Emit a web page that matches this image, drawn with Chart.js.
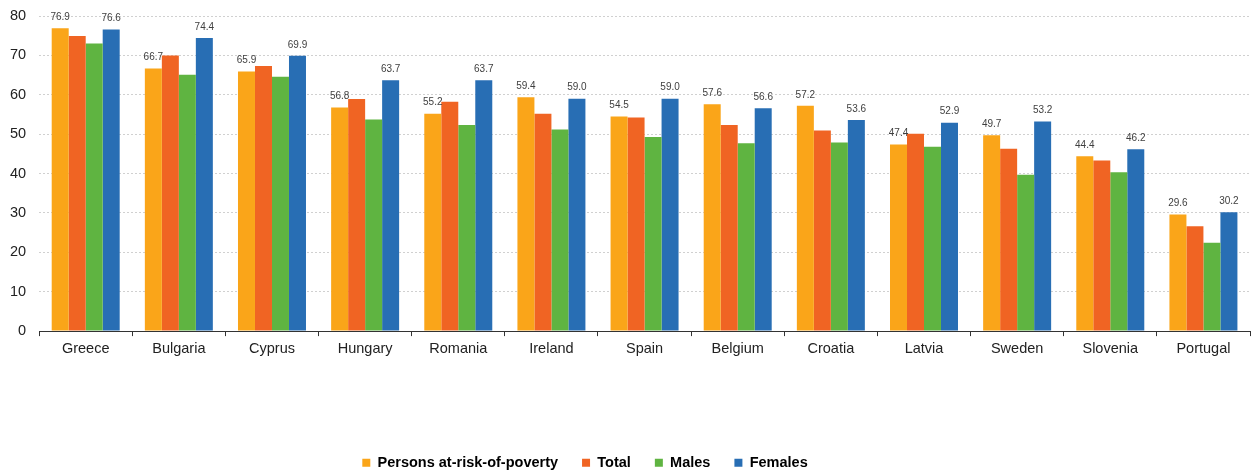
<!DOCTYPE html>
<html>
<head>
<meta charset="utf-8">
<script src="https://cdn.jsdelivr.net/npm/chart.js@4"></script>
<style>
  html, body { margin: 0; padding: 0; background: #fff; }
  #wrap { width: 1252px; height: 472px; position: relative; }
</style>
</head>
<body>
<div id="wrap"><canvas id="povertyChart"></canvas></div>
<script>
const countries = ['Greece', 'Bulgaria', 'Cyprus', 'Hungary', 'Romania', 'Ireland', 'Spain',
  'Belgium', 'Croatia', 'Latvia', 'Sweden', 'Slovenia', 'Portugal'];
const atRisk  = [76.9, 66.7, 65.9, 56.8, 55.2, 59.4, 54.5, 57.6, 57.2, 47.4, 49.7, 44.4, 29.6];
const total   = [74.9, 70.0, 67.3, 58.9, 58.2, 55.2, 54.2, 52.3, 50.9, 50.1, 46.3, 43.3, 26.6];
const males   = [73.0, 65.1, 64.6, 53.7, 52.3, 51.2, 49.3, 47.7, 47.9, 46.8, 39.7, 40.3, 22.4];
const females = [76.6, 74.4, 69.9, 63.7, 63.7, 59.0, 59.0, 56.6, 53.6, 52.9, 53.2, 46.2, 30.2];
const yTicks  = [0, 10, 20, 30, 40, 50, 60, 70, 80];

const FONT = '"Liberation Sans", Arial, sans-serif';

// value labels above the orange and blue bars only
const barValues = {
  id: 'barValues',
  afterDatasetsDraw(chart) {
    const ctx = chart.ctx;
    ctx.save();
    ctx.font = '10px ' + FONT;
    ctx.fillStyle = '#404040';
    ctx.textAlign = 'center';
    ctx.textBaseline = 'bottom';
    [0, 3].forEach((i) => {
      const meta = chart.getDatasetMeta(i);
      meta.data.forEach((bar, j) => {
        ctx.fillText(chart.data.datasets[i].data[j].toFixed(1), bar.x, bar.y - 6);
      });
    });
    ctx.restore();
  }
};

// legend sits a bit left of centre and close to the bottom edge
const legendShift = {
  id: 'legendShift',
  afterLayout(chart) {
    const lg = chart.legend;
    lg.left -= 40;
    lg.right -= 40;
    lg.top += 8;
    lg.bottom += 8;
  }
};

const mk = (label, data, color) => ({
  label, data, backgroundColor: color, borderWidth: 0,
  categoryPercentage: 0.73, barPercentage: 1.0
});

new Chart(document.getElementById('povertyChart').getContext('2d'), {
  type: 'bar',
  data: {
    labels: countries,
    datasets: [
      mk('Persons at-risk-of-poverty', atRisk, '#FAA519'),
      mk('Total', total, '#F06423'),
      mk('Males', males, '#5FB441'),
      mk('Females', females, '#286EB4')
    ]
  },
  plugins: [barValues, legendShift],
  options: {
    responsive: true,
    maintainAspectRatio: false,
    animation: false,
    layout: { padding: { top: 16, right: 2, left: 0, bottom: 0 } },
    plugins: {
      tooltip: { enabled: false },
      legend: {
        position: 'bottom',
        labels: {
          boxWidth: 8,
          boxHeight: 8,
          padding: 24,
          color: '#000',
          font: { family: FONT, size: 14.5, weight: 'bold' }
        }
      }
    },
    scales: {
      x: {
        offset: true,
        grid: {
          offset: true,
          drawOnChartArea: false,
          drawTicks: true,
          tickLength: 5,
          color: '#333'
        },
        border: { color: '#333', width: 1 },
        ticks: {
          color: '#222',
          padding: 4,
          font: { family: FONT, size: 14.5 }
        },
        afterFit(scale) { scale.height += 62; }
      },
      y: {
        min: 0,
        max: 80,
        afterBuildTicks(scale) { scale.ticks = yTicks.map((v) => ({ value: v })); },
        afterFit(scale) {
          scale.width -= 3;
          scale.paddingTop = 0;
          scale.paddingBottom = 0;
        },
        grid: {
          drawTicks: false,
          color: '#d0d0d0'
        },
        border: { display: false, dash: [2, 2] },
        ticks: {
          color: '#222',
          padding: 13,
          font: { family: FONT, size: 14.5 }
        }
      }
    }
  }
});
</script>
</body>
</html>
